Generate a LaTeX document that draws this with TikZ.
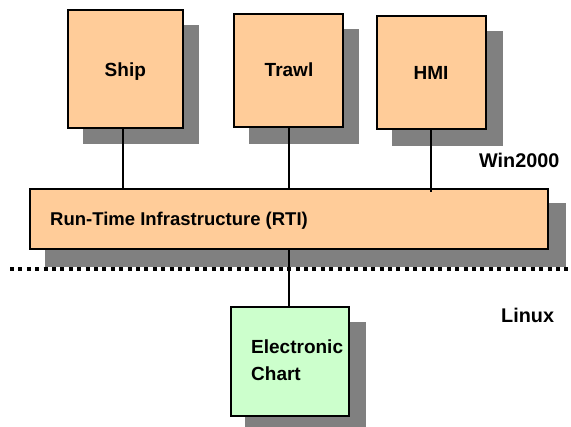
\documentclass[tikz,border=0pt]{standalone}
\usepackage{fontspec}
\setmainfont{Liberation Sans}
\begin{document}
\begin{tikzpicture}[x=1pt,y=-1pt,
  box/.style={draw=black,line width=2.5pt,fill=boxorange},
  conn/.style={draw=black,line width=2pt},
  lbl/.style={font=\fontsize{19}{23}\selectfont\bfseries,inner sep=0pt,anchor=base},
]
\definecolor{boxorange}{HTML}{FFCC99}
\definecolor{boxgreen}{HTML}{CCFFCC}
\definecolor{shadowgray}{HTML}{808080}
\useasboundingbox (0,0) rectangle (571,427);
% shadows
\fill[shadowgray] (83,25) rectangle (199,144);
\fill[shadowgray] (249,29) rectangle (359,144);
\fill[shadowgray] (392,31) rectangle (503,146);
\fill[shadowgray] (45,203) rectangle (566,267);
\fill[shadowgray] (245,322) rectangle (366,427);
% dotted separator
\coordinate (sepL) at (10,269);
\coordinate (sepR) at (571,269);
\draw[line width=4pt,dash pattern=on 4pt off 4.4pt] (sepL) -- (sepR);
% boxes
\draw[box] (68,10) rectangle (183,128);
\node[lbl] (ship) at (125.3,76.7) {Ship};
\coordinate (shipB) at (123,128);
\draw[box] (234,14) rectangle (343,127);
\node[lbl] (trawl) at (289,77) {Trawl};
\coordinate (trawlB) at (289,127);
\draw[box] (377,16) rectangle (486,129);
\node[lbl] (hmi) at (431,79.3) {HMI};
\coordinate (hmiB) at (431,129);
\draw[box] (30,189) rectangle (548,249);
\node[lbl,anchor=base west,font=\fontsize{18.5}{22}\selectfont\bfseries] (rti) at (50,225.7) {Run-Time Infrastructure (RTI)};
\coordinate (rtiShip) at (123,189);
\coordinate (rtiTrawl) at (289,189);
\coordinate (rtiHmi) at (431,192);
\coordinate (rtiB) at (289,249);
\draw[box,fill=boxgreen] (231,307) rectangle (349,416);
\node[lbl,anchor=base west] (chart1) at (251,354) {Electronic};
\node[lbl,anchor=base west] (chart2) at (251,380.7) {Chart};
\coordinate (chartT) at (289,307);
% connectors
\draw[conn] (shipB) -- (rtiShip);
\draw[conn] (trawlB) -- (rtiTrawl);
\draw[conn] (hmiB) -- (rtiHmi);
\draw[conn] (rtiB) -- (chartT);
% region labels
\node[lbl,anchor=base west,font=\fontsize{19.8}{24}\selectfont\bfseries] (win) at (479,167.3) {Win2000};
\node[lbl,anchor=base west,font=\fontsize{19.8}{24}\selectfont\bfseries] (linux) at (501,322.3) {Linux};
\end{tikzpicture}
\end{document}
